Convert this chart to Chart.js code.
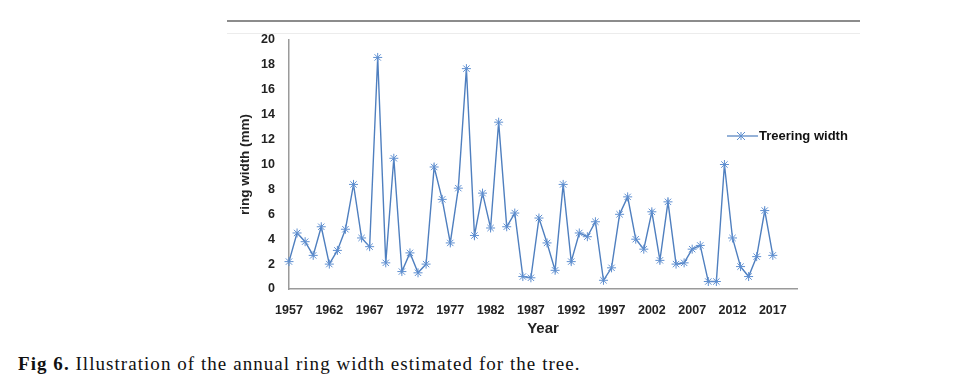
<!DOCTYPE html>
<html>
<head>
<meta charset="utf-8">
<script src="https://cdn.jsdelivr.net/npm/chart.js@4/dist/chart.umd.min.js"></script>
<style>
  html, body { margin: 0; padding: 0; background: #fff; }
  body { width: 960px; height: 391px; position: relative; overflow: hidden; }
  #rule { position: absolute; left: 227px; top: 20px; width: 633px; height: 2px; background: #8c8c8c; }
  #frame { position: absolute; left: 227px; top: 33px; width: 633px; height: 1px; background: #ececec; }
  #wrap { position: absolute; left: 0; top: 0; width: 960px; height: 340px; }
  #caption { position: absolute; left: 18px; top: 353px; line-height: 22px; font-family: "Liberation Serif", serif; font-size: 19px; letter-spacing: 1.05px; color: #111; white-space: nowrap; }
  #caption b { font-weight: bold; }
</style>
</head>
<body>
<div id="rule"></div>
<div id="frame"></div>
<div id="wrap"><canvas id="ringChart" width="960" height="340"></canvas></div>
<div id="caption"><b>Fig 6.</b> Illustration of the annual ring width estimated for the tree.</div>

<script>
// Kategorien (Jahre) – die letzten drei ohne Messwert, wie im Original
const years = [
  1957, 1958, 1959, 1960, 1961, 1962, 1963, 1964, 1965, 1966,
  1967, 1968, 1969, 1970, 1971, 1972, 1973, 1974, 1975, 1976,
  1977, 1978, 1979, 1980, 1981, 1982, 1983, 1984, 1985, 1986,
  1987, 1988, 1989, 1990, 1991, 1992, 1993, 1994, 1995, 1996,
  1997, 1998, 1999, 2000, 2001, 2002, 2003, 2004, 2005, 2006,
  2007, 2008, 2009, 2010, 2011, 2012, 2013, 2014, 2015, 2016,
  2017, 2018, 2019, 2020
];

// Jahrringbreite in mm
const ringWidth = [
  2.2, 4.5, 3.8, 2.7, 5.0, 2.0, 3.1, 4.8, 8.4, 4.1,
  3.4, 18.6, 2.1, 10.5, 1.4, 2.9, 1.3, 2.0, 9.8, 7.2,
  3.7, 8.1, 17.7, 4.3, 7.7, 4.9, 13.4, 5.0, 6.1, 1.0,
  0.9, 5.7, 3.7, 1.5, 8.4, 2.2, 4.5, 4.2, 5.4, 0.7,
  1.7, 6.0, 7.4, 4.0, 3.2, 6.2, 2.3, 7.0, 2.0, 2.1,
  3.2, 3.5, 0.6, 0.6, 10.0, 4.1, 1.8, 1.0, 2.6, 6.3,
  2.7, null, null, null
];

const xTickYears = [1957, 1962, 1967, 1972, 1977, 1982, 1987, 1992, 1997, 2002, 2007, 2012, 2017];
const yTicks = [0, 2, 4, 6, 8, 10, 12, 14, 16, 18, 20];

const seriesName = "Treering width";
const lineColor = "#4f7fbf";
const markColor = "#5f8fd0";
const fontFam = "'Liberation Sans', Arial, sans-serif";
const axisFont = { family: fontFam, size: 12.5, weight: "bold" };

// Legende wie in Excel: Linie mit Stern-Marker
const excelLegend = {
  id: "excelLegend",
  afterDraw(chart) {
    const { ctx, chartArea } = chart;
    const x0 = chartArea.right - 70;
    const y = chartArea.top + 96;
    ctx.save();
    ctx.strokeStyle = lineColor;
    ctx.lineWidth = 1.2;
    ctx.beginPath();
    ctx.moveTo(x0, y);
    ctx.lineTo(x0 + 31, y);
    ctx.stroke();
    const cx = x0 + 14, r = 4;
    ctx.strokeStyle = markColor;
    ctx.lineWidth = 1;
    ctx.beginPath();
    ctx.moveTo(cx - r, y - r); ctx.lineTo(cx + r, y + r);
    ctx.moveTo(cx - r, y + r); ctx.lineTo(cx + r, y - r);
    ctx.moveTo(cx, y - r); ctx.lineTo(cx, y + r);
    ctx.stroke();
    ctx.fillStyle = "#111";
    ctx.font = "bold 13px " + fontFam;
    ctx.textBaseline = "middle";
    ctx.fillText(seriesName, x0 + 32, y);
    ctx.restore();
  }
};

new Chart(document.getElementById("ringChart"), {
  type: "line",
  data: {
    labels: years,
    datasets: [{
      label: seriesName,
      data: ringWidth,
      borderColor: lineColor,
      borderWidth: 1.4,
      tension: 0,
      pointStyle: "star",
      pointRadius: 4.5,
      pointBorderColor: markColor,
      pointBackgroundColor: markColor,
      pointBorderWidth: 1,
      spanGaps: false,
    }]
  },
  options: {
    responsive: false,
    devicePixelRatio: 1,
    animation: false,
    layout: { padding: { left: 219, right: 163, top: 40, bottom: 0 } },
    plugins: { legend: { display: false }, tooltip: { enabled: false } },
    scales: {
      x: {
        type: "category",
        offset: false,
        grid: { display: false, drawTicks: false },
        border: { display: true, color: "#9a9a9a", width: 1.5 },
        ticks: {
          autoSkip: false,
          maxRotation: 0,
          padding: 14,
          color: "#222",
          font: axisFont,
          callback(value, index) {
            const yr = years[index];
            return xTickYears.includes(yr) ? String(yr) : "";
          }
        },
        title: {
          display: true,
          text: "Year",
          color: "#222",
          font: { family: fontFam, size: 15, weight: "bold" },
          padding: { top: 0, bottom: 2 }
        },
        afterFit(scale) { scale.height = 51; }
      },
      y: {
        min: 0,
        max: 20,
        afterBuildTicks(scale) { scale.ticks = yTicks.map(v => ({ value: v })); },
        grid: { display: false, drawTicks: false },
        border: { display: true, color: "#9a9a9a", width: 1.5 },
        ticks: { padding: 14, color: "#222", font: axisFont },
        title: {
          display: true,
          text: "ring width (mm)",
          color: "#222",
          font: { family: fontFam, size: 13.5, weight: "bold" },
          padding: { top: 18, bottom: 0 }
        },
        afterFit(scale) { scale.width = 70; }
      }
    }
  },
  plugins: [excelLegend]
});
</script>
</body>
</html>
